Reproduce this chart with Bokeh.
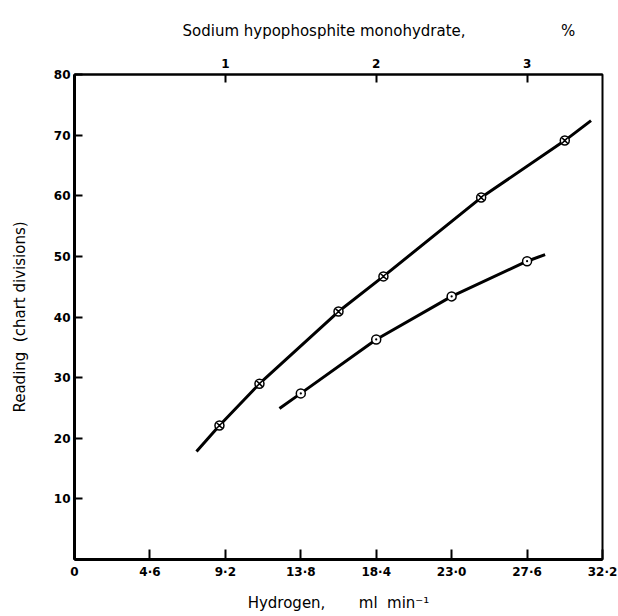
from bokeh.plotting import figure
from bokeh.models import Range1d, LinearAxis, FixedTicker, Title
from bokeh.embed import file_html
from bokeh.resources import INLINE

# ---- data ----
x_ticks = [0, 4.6, 9.2, 13.8, 18.4, 23.0, 27.6, 32.2]
x_tick_labels = ["0", "4·6", "9·2", "13·8", "18·4", "23·0", "27·6", "32·2"]
y_ticks = [10, 20, 30, 40, 50, 60, 70, 80]
top_ticks = [1, 2, 3]

upper_x = [8.84, 11.28, 16.1, 18.84, 24.8, 29.9]
upper_y = [22.1, 29.0, 40.9, 46.7, 59.7, 69.1]
upper_curve_x = [7.44, 8.84, 11.28, 16.1, 18.84, 24.8, 29.9, 31.5]
upper_curve_y = [17.8, 22.1, 29.0, 40.9, 46.7, 59.7, 69.1, 72.4]

lower_x = [13.8, 18.4, 23.0, 27.6]
lower_y = [27.4, 36.3, 43.4, 49.2]
lower_curve_x = [12.5, 13.8, 18.4, 23.0, 27.6, 28.7]
lower_curve_y = [24.9, 27.4, 36.3, 43.4, 49.2, 50.3]

FONT = "DejaVu Sans"
NB = "\u00a0"

p = figure(width=618, height=616, output_backend="svg", toolbar_location=None,
           x_range=Range1d(0, 32.2), y_range=Range1d(0, 80),
           min_border_left=74, min_border_right=16, min_border_top=74,
           min_border_bottom=57)
p.grid.visible = False
p.outline_line_color = "black"
p.outline_line_width = 2
p.background_fill_color = "white"
p.border_fill_color = "white"


def style_axis(ax, width, tick_in):
    ax.axis_line_width = width
    ax.axis_line_color = "black"
    ax.major_tick_in = tick_in
    ax.major_tick_out = 0
    ax.major_tick_line_width = 2
    ax.major_tick_line_color = "black"
    ax.minor_tick_line_color = None
    ax.major_label_text_font = FONT
    ax.major_label_text_font_style = "bold"
    ax.major_label_text_font_size = "12px"
    ax.major_label_text_color = "black"
    ax.axis_label_text_font = FONT
    ax.axis_label_text_font_style = "normal"
    ax.axis_label_text_font_size = "15px"
    ax.axis_label_text_color = "black"


# bottom axis
xa = p.xaxis[0]
style_axis(xa, 3, 10)
xa.ticker = FixedTicker(ticks=x_ticks)
xa.major_label_overrides = {t: l for t, l in zip(x_ticks, x_tick_labels)}
xa.major_label_standoff = 5
xa.axis_label = "Hydrogen," + NB * 7 + "ml" + NB * 2 + "min\u207b\u00b9"
xa.axis_label_standoff = 12

# left axis
ya = p.yaxis[0]
style_axis(ya, 3, 8)
ya.ticker = FixedTicker(ticks=y_ticks)
ya.major_label_standoff = 4
ya.axis_label = "Reading" + NB * 2 + "(chart divisions)"
ya.axis_label_standoff = 22

# top axis in percent
p.extra_x_ranges = {"pct": Range1d(0, 32.2 / 9.2)}
ta = LinearAxis(x_range_name="pct")
style_axis(ta, 2, 8)
ta.ticker = FixedTicker(ticks=top_ticks)
ta.major_label_standoff = 7
p.add_layout(ta, "above")

p.add_layout(Title(text="Sodium hypophosphite monohydrate," + NB * 20 + "%",
                   align="left", offset=108, standoff=32,
                   text_font=FONT, text_font_style="normal",
                   text_font_size="15px", text_color="black"), "above")

# curves
p.line(upper_curve_x, upper_curve_y, line_width=3, line_color="black")
p.line(lower_curve_x, lower_curve_y, line_width=3, line_color="black")
p.scatter(upper_x, upper_y, marker="circle_x", size=9, line_width=1.5,
          line_color="black", fill_color="white")
p.scatter(lower_x, lower_y, marker="circle_dot", size=9, line_width=1.5,
          line_color="black", fill_color="white")

open("out.html", "w").write(file_html(p, INLINE))
